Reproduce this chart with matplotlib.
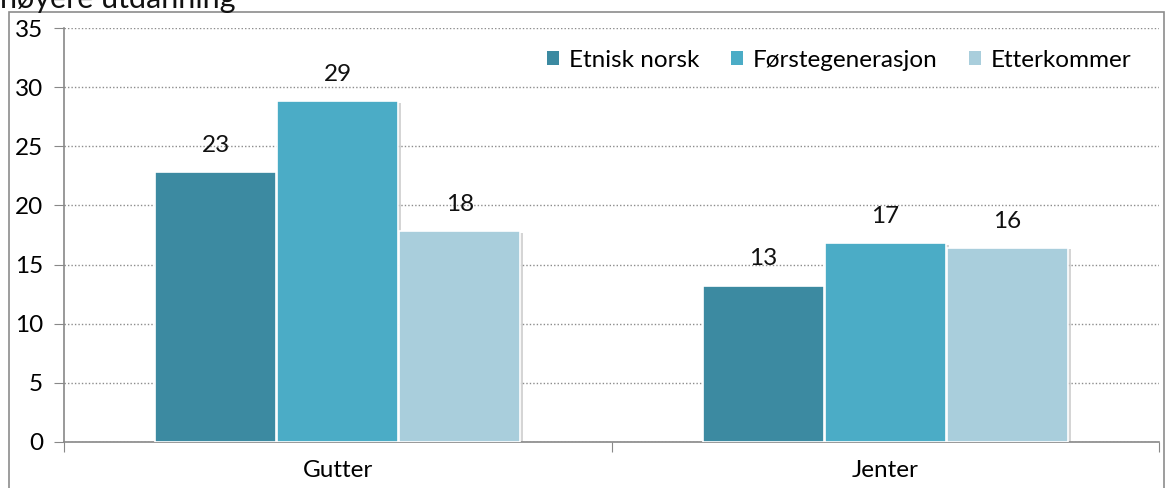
import matplotlib
matplotlib.use("Agg")
import matplotlib.pyplot as plt
import matplotlib.patheffects as pe
from matplotlib.patches import Rectangle, Patch
import numpy as np

categories = ["Gutter", "Jenter"]
series_names = ["Etnisk norsk", "Førstegenerasjon", "Etterkommer"]
etnisk_norsk = [22.8, 13.2]
forstegenerasjon = [28.8, 16.8]
etterkommer = [17.8, 16.4]
labels_etnisk = ["23", "13"]
labels_forste = ["29", "17"]
labels_etter = ["18", "16"]
y_ticks = [0, 5, 10, 15, 20, 25, 30, 35]
title_text = "høyere utdanning"

colors = ["#3C8AA1", "#4BACC6", "#A9CEDC"]

plt.rcParams['font.family'] = ['Lato', 'DejaVu Sans']
FS = 17.5

W, H = 1167, 488
fig = plt.figure(figsize=(W / 100, H / 100), dpi=100)
ax = fig.add_axes([64 / W, 1 - 442 / H, (1159 - 64) / W, (442 - 28) / H])

x = np.arange(len(categories))
bw = 0.221
offsets = [-0.223, 0.0, 0.223]
all_series = [etnisk_norsk, forstegenerasjon, etterkommer]
all_labels = [labels_etnisk, labels_forste, labels_etter]

for vals, labs, off, col, name in zip(all_series, all_labels, offsets, colors, series_names):
    bars = ax.bar(x + off, vals, width=bw, color=col, edgecolor="white", linewidth=1.2,
                  zorder=3)
    for b in bars:
        b.set_path_effects([pe.SimplePatchShadow(offset=(2, -1), shadow_rgbFace="#888888", alpha=0.35),
                            pe.Normal()])
    for xi, v, lab in zip(x + off, vals, labs):
        ax.annotate(lab, (xi, v), xytext=(0, 27), textcoords="offset pixels",
                    ha="center", va="center", fontsize=FS, color="#111111", zorder=5)

ax.set_xlim(-0.5, 1.5)
ax.set_ylim(0, 35)
ax.set_yticks(y_ticks)
ax.set_yticklabels([str(t) for t in y_ticks], fontsize=FS)
ax.yaxis.grid(True, linestyle=(0, (1, 1.5)), color="#8c8c8c", linewidth=1.0, zorder=0)
ax.set_axisbelow(True)

ax.set_xticks([-0.5, 0.5, 1.5])
ax.set_xticklabels(["", "", ""])
ax.set_xticks(x, minor=True)
ax.set_xticklabels(categories, minor=True, fontsize=FS)
ax.tick_params(axis="x", which="minor", length=0, pad=13)
ax.tick_params(axis="x", which="major", length=7, color="#888888", direction="out")
ax.tick_params(axis="y", length=7, color="#888888", direction="out", pad=8)

for s in ["top", "right"]:
    ax.spines[s].set_visible(False)
for s in ["left", "bottom"]:
    ax.spines[s].set_color("#888888")
    ax.spines[s].set_linewidth(1.2)

handles = [Patch(facecolor=c, edgecolor="none") for c in colors]
leg = ax.legend(handles, series_names, loc="upper right", bbox_to_anchor=(0.995, 1.0), ncol=3,
                frameon=False, fontsize=FS, handlelength=0.5, handleheight=0.5,
                handletextpad=0.4, columnspacing=1.3)

# outer border
fig.patches.append(Rectangle((9 / W, -0.05), (1164 - 9) / W, 1.05 - 12 / H,
                             transform=fig.transFigure, fill=False, edgecolor="#8c8c8c",
                             linewidth=1.2))

fig.text(0.0, 1 - 8 / H, title_text, fontsize=22, ha="left", va="baseline", color="#111111")

fig.savefig("out.png", dpi=100)
